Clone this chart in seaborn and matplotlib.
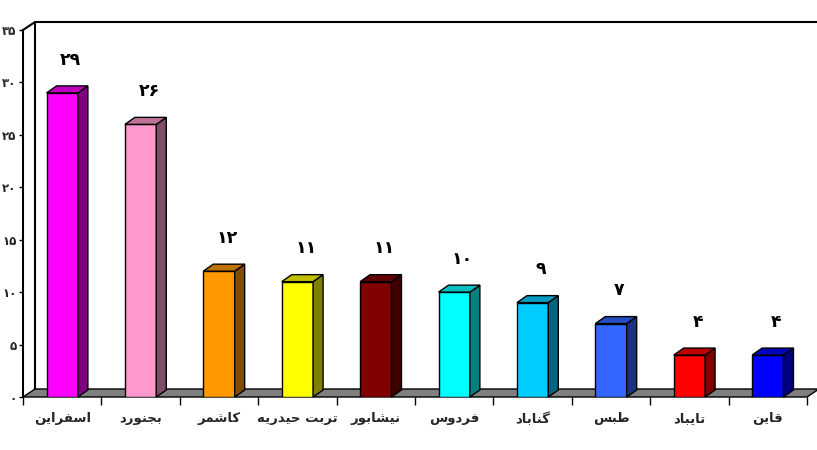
import numpy as np
import pandas as pd
import matplotlib
matplotlib.use("Agg")
import matplotlib.pyplot as plt
import matplotlib.colors as mcolors
from matplotlib.patches import Polygon
import seaborn as sns

# ---------------- data ----------------
cities = ["اسفراین", "بجنورد", "کاشمر", "تربت حیدریه", "نیشابور",
          "فردوس", "گناباد", "طبس", "تایباد", "قاین"]
values = [29, 26, 12, 11, 11, 10, 9, 7, 4, 4]
bar_colors = ["#FF00FF", "#FF99CC", "#FF9900", "#FFFF00", "#800000",
              "#00FFFF", "#00CCFF", "#3366FF", "#FF0000", "#0000FF"]
y_ticks = [0, 5, 10, 15, 20, 25, 30, 35]

# ---------------- Persian shaping helpers ----------------
FORMS = {
    'ا': ('\uFE8D', '\uFE8E', None, None),
    'ب': ('\uFE8F', '\uFE90', '\uFE91', '\uFE92'),
    'ت': ('\uFE95', '\uFE96', '\uFE97', '\uFE98'),
    'ج': ('\uFE9D', '\uFE9E', '\uFE9F', '\uFEA0'),
    'ح': ('\uFEA1', '\uFEA2', '\uFEA3', '\uFEA4'),
    'د': ('\uFEA9', '\uFEAA', None, None),
    'ر': ('\uFEAD', '\uFEAE', None, None),
    'س': ('\uFEB1', '\uFEB2', '\uFEB3', '\uFEB4'),
    'ش': ('\uFEB5', '\uFEB6', '\uFEB7', '\uFEB8'),
    'ط': ('\uFEC1', '\uFEC2', '\uFEC3', '\uFEC4'),
    'ف': ('\uFED1', '\uFED2', '\uFED3', '\uFED4'),
    'ق': ('\uFED5', '\uFED6', '\uFED7', '\uFED8'),
    'م': ('\uFEE1', '\uFEE2', '\uFEE3', '\uFEE4'),
    'ن': ('\uFEE5', '\uFEE6', '\uFEE7', '\uFEE8'),
    'ه': ('\uFEE9', '\uFEEA', '\uFEEB', '\uFEEC'),
    'و': ('\uFEED', '\uFEEE', None, None),
    'ک': ('\uFB8E', '\uFB8F', '\uFB90', '\uFB91'),
    'گ': ('\uFB92', '\uFB93', '\uFB94', '\uFB95'),
    'ی': ('\uFBFC', '\uFBFD', '\uFBFE', '\uFBFF'),
}


def shape(s):
    out = []
    for i, ch in enumerate(s):
        if ch not in FORMS:
            out.append(ch)
            continue
        prev_j = i > 0 and s[i - 1] in FORMS and FORMS[s[i - 1]][2] is not None
        next_j = FORMS[ch][2] is not None and i + 1 < len(s) and s[i + 1] in FORMS
        if prev_j and next_j:
            out.append(FORMS[ch][3])
        elif prev_j:
            out.append(FORMS[ch][1])
        elif next_j:
            out.append(FORMS[ch][2])
        else:
            out.append(FORMS[ch][0])
    return "".join(reversed(out))


PDIG = str.maketrans("0123456789", "۰۱۲۳۴۵۶۷۸۹")


def fa_num(n):
    return str(n).translate(PDIG)


# ---------------- figure ----------------
sns.set_style("white")
plt.rcParams['font.family'] = ['DejaVu Sans']

W, H = 817, 450
fig = plt.figure(figsize=(W / 100, H / 100), dpi=100)
ax = fig.add_axes([23 / W, 1 - 397 / H, (807 - 23) / W, (397 - 30) / H])

df = pd.DataFrame({"city": cities, "value": values})
sns.barplot(data=df, x="city", y="value", hue="city", palette=bar_colors,
            legend=False, width=0.4, edgecolor="black", linewidth=1.0,
            saturation=1, ax=ax, zorder=3)

ax.set_xlim(-0.5, len(cities) - 0.5)
ax.set_ylim(0, 35)

# pixel -> data conversion for the depth effect
ax_w_px = 807 - 23
ax_h_px = 397 - 30
px_x = (len(cities)) / ax_w_px
px_y = 35 / ax_h_px

# back wall / floor (offset 12px right, 8px up)
wdx, wdy = 12 * px_x, 8 * px_y
x0, x1 = -0.5, len(cities) - 0.5
floor = Polygon([(x0, 0), (x1, 0), (x1 + wdx, wdy), (x0 + wdx, wdy)],
                closed=True, facecolor="#808080", edgecolor="black",
                linewidth=1.0, clip_on=False, zorder=1)
ax.add_patch(floor)
ax.plot([x0, x0 + wdx], [35, 35 + wdy], color="black", lw=1.5, clip_on=False, zorder=2)
ax.plot([x0 + wdx, x1 + wdx + 1], [35 + wdy, 35 + wdy], color="black", lw=1.5,
        clip_on=False, zorder=2)
ax.plot([x0 + wdx, x0 + wdx], [wdy, 35 + wdy], color="black", lw=1.5, clip_on=False, zorder=2)

# 3D faces of bars
bdx, bdy = 10 * px_x, 7 * px_y
for patch, col in zip(ax.patches[:len(values)], bar_colors):
    bx = patch.get_x()
    bw = patch.get_width()
    bh = patch.get_height()
    rgb = np.array(mcolors.to_rgb(col))
    side = Polygon([(bx + bw, 0), (bx + bw + bdx, bdy), (bx + bw + bdx, bh + bdy), (bx + bw, bh)],
                   closed=True, facecolor=rgb * 0.5, edgecolor="black", lw=1.0,
                   zorder=3, clip_on=False)
    top = Polygon([(bx, bh), (bx + bdx, bh + bdy), (bx + bw + bdx, bh + bdy), (bx + bw, bh)],
                  closed=True, facecolor=rgb * 0.75, edgecolor="black", lw=1.0,
                  zorder=3, clip_on=False)
    ax.add_patch(side)
    ax.add_patch(top)

# value labels
for patch, v in zip(ax.patches[:len(values)], values):
    ax.annotate(fa_num(v), (patch.get_x() + patch.get_width() / 2, patch.get_height()),
                xytext=(6, 17.5), textcoords="offset points", ha="center", va="bottom",
                fontsize=12.5, fontweight="bold", color="black", zorder=5)

# axes styling
for s in ["top", "right", "bottom"]:
    ax.spines[s].set_visible(False)
ax.spines["left"].set_linewidth(1.5)
ax.spines["left"].set_color("black")
ax.spines["left"].set_zorder(4)

ax.set_yticks(y_ticks)
ax.set_yticklabels([fa_num(t) for t in y_ticks], fontsize=8.5, fontweight="bold")
ax.tick_params(axis="y", direction="out", length=3, width=1, color="black", pad=1.5, left=True)

ax.set_xticks(range(len(cities)))
ax.set_xticklabels([shape(c) for c in cities], fontsize=9.5, fontweight="bold")
ax.set_xticks(np.arange(-0.5, len(cities)), minor=True)
ax.tick_params(axis="x", which="major", length=0, pad=11, bottom=True)
ax.tick_params(axis="x", which="minor", length=6, width=1, color="black", bottom=True)
ax.set_xlabel("")
ax.set_ylabel("")
ax.grid(False)

fig.savefig("out.png", dpi=100, facecolor="white")
